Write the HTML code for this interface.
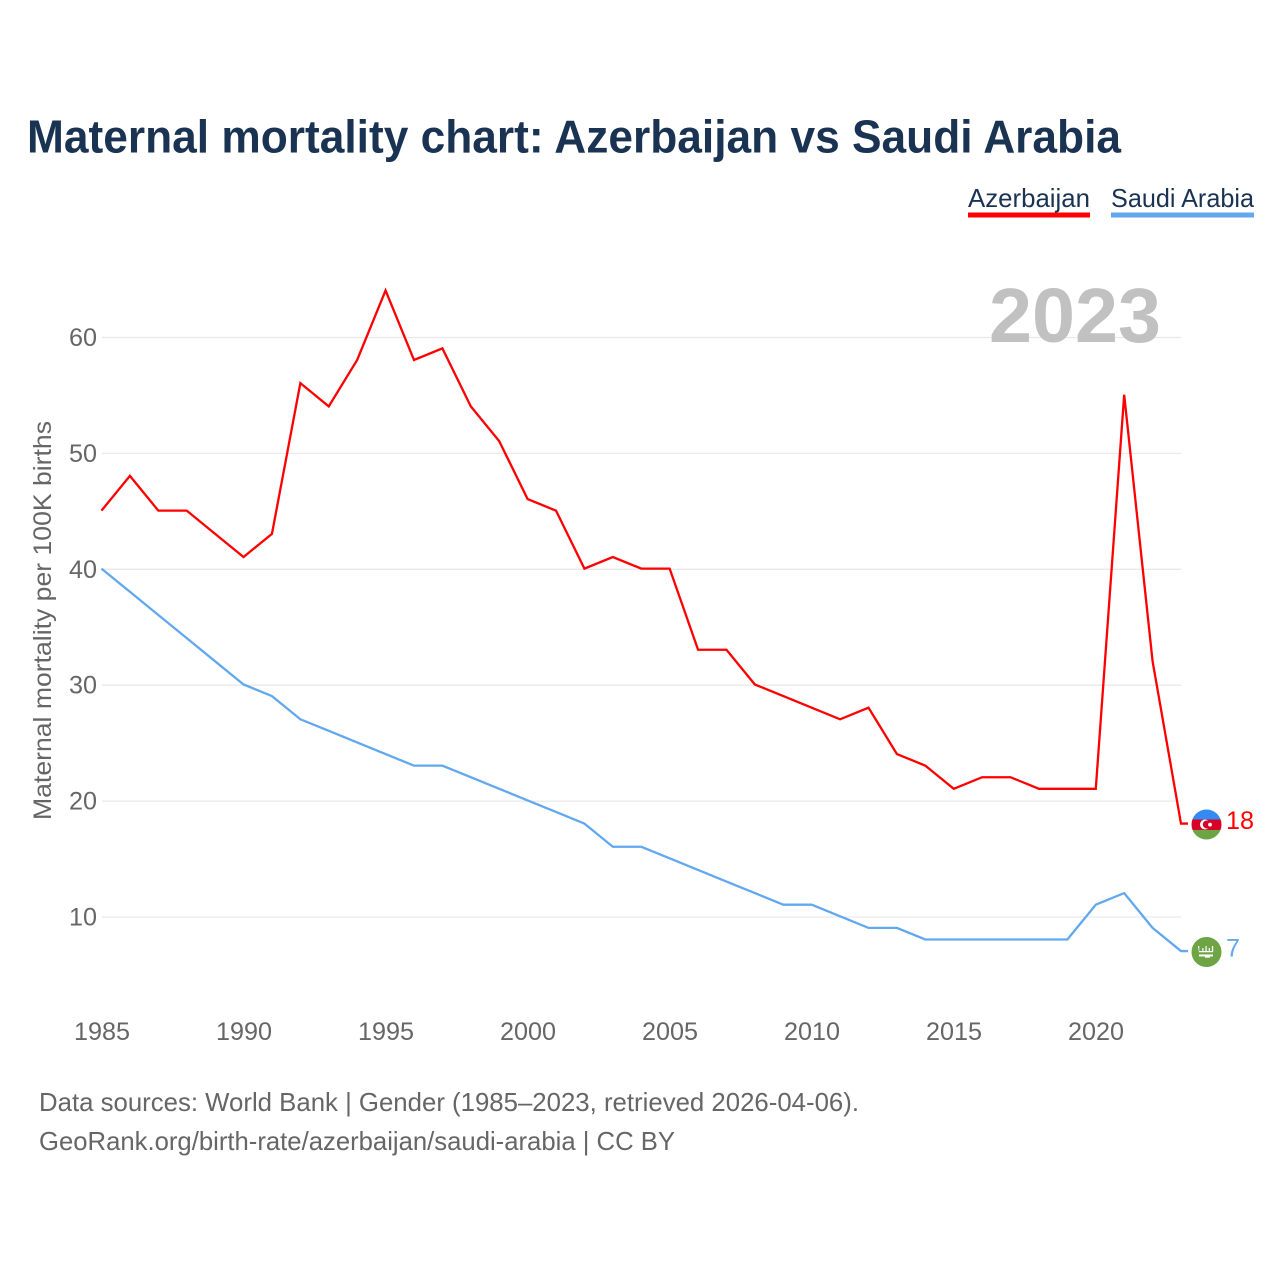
<!DOCTYPE html>
<html lang="en">
<head>
<meta charset="utf-8">
<title>Maternal mortality chart: Azerbaijan vs Saudi Arabia</title>
<style>
html,body{margin:0;padding:0;background:#fff;width:1280px;height:1280px;overflow:hidden}
svg{display:block}
text{font-family:"Liberation Sans",sans-serif}
</style>
</head>
<body>
<svg id="chart" width="1280" height="1280" viewBox="0 0 1280 1280" xmlns="http://www.w3.org/2000/svg">
  <rect width="1280" height="1280" fill="#ffffff"/>
  <text x="27" y="152.5" font-size="46" font-weight="700" fill="#1a3353" textLength="1094" lengthAdjust="spacingAndGlyphs">Maternal mortality chart: Azerbaijan vs Saudi Arabia</text>

  <g>
    <text x="968" y="207" font-size="26" fill="#1a3353" textLength="122" lengthAdjust="spacingAndGlyphs">Azerbaijan</text>
    <rect x="968" y="212.5" width="122" height="5" fill="#ff0000"/>
  </g>
  <g>
    <text x="1111" y="207" font-size="26" fill="#1a3353" textLength="143" lengthAdjust="spacingAndGlyphs">Saudi Arabia</text>
    <rect x="1111" y="212.5" width="143" height="5" fill="#62a8ee"/>
  </g>

  <g id="grid"></g>
  <g id="yticks"></g>
  <g id="xticks"></g>

  <text x="989" y="342" font-size="77" font-weight="700" fill="#c1c1c1" textLength="172" lengthAdjust="spacingAndGlyphs">2023</text>

  <text transform="translate(51,820) rotate(-90)" font-size="25" fill="#666666" textLength="399" lengthAdjust="spacingAndGlyphs">Maternal mortality per 100K births</text>

  <g id="series"></g>

  <g id="flag-az">
    <clipPath id="clip-az"><circle cx="1206.5" cy="823.5" r="15"/></clipPath>
    <g clip-path="url(#clip-az)">
      <rect x="1190" y="807" width="33" height="11.5" fill="#338af3"/>
      <rect x="1190" y="818.5" width="33" height="10.5" fill="#d80027"/>
      <rect x="1190" y="829" width="33" height="12" fill="#6da544"/>
    </g>
    <circle cx="1205" cy="823.5" r="5" fill="#ffffff"/>
    <circle cx="1206.8" cy="823.5" r="4" fill="#d80027"/>
    <circle cx="1210" cy="823.7" r="1.9" fill="#ffffff"/>
  </g>
  <g id="flag-sa">
    <circle cx="1206.5" cy="951.5" r="15" fill="#6da544"/>
    <path d="M1198 945.5h1.3v5h3v-3h1.2v3h2v-5h1.2v5h2v-3h1.2v3h2v-5h1.3v6.3h-14.2z" fill="#ffffff"/>
    <rect x="1199" y="954" width="14" height="2" fill="#ffffff"/>
    <rect x="1205" y="955" width="5" height="2.2" fill="#ffffff"/>
  </g>

  <g id="end-labels"></g>

  <text x="39" y="1111" font-size="26" fill="#666666" textLength="820" lengthAdjust="spacingAndGlyphs">Data sources: World Bank | Gender (1985–2023, retrieved 2026-04-06).</text>
  <text x="39" y="1150" font-size="26" fill="#666666" textLength="636" lengthAdjust="spacingAndGlyphs">GeoRank.org/birth-rate/azerbaijan/saudi-arabia | CC BY</text>
</svg>
<script>
const years = [1985,1986,1987,1988,1989,1990,1991,1992,1993,1994,1995,1996,1997,1998,1999,2000,2001,2002,2003,2004,2005,2006,2007,2008,2009,2010,2011,2012,2013,2014,2015,2016,2017,2018,2019,2020,2021,2022,2023];
const azerbaijan = [45,48,45,45,43,41,43,56,54,58,64,58,59,54,51,46,45,40,41,40,40,33,33,30,29,28,27,28,24,23,21,22,22,21,21,21,55,32,18];
const saudiArabia = [40,38,36,34,32,30,29,27,26,25,24,23,23,22,21,20,19,18,16,16,15,14,13,12,11,11,10,9,9,8,8,8,8,8,8,11,12,9,7];
const yTickValues = [10,20,30,40,50,60];
const xTickValues = [1985,1990,1995,2000,2005,2010,2015,2020];

const NS = 'http://www.w3.org/2000/svg';
const xScale = function (year) { return 101.5 + (year - 1985) * (1181 - 101.5) / (2023 - 1985); };
const yScale = function (value) { return 917 - (value - 10) * (917 - 337.5) / 50; };
const lineOffsetY = -0.7;

function make(tag, attrs, parent) {
  const el = document.createElementNS(NS, tag);
  for (const k in attrs) el.setAttribute(k, attrs[k]);
  parent.appendChild(el);
  return el;
}

const gridGroup = document.getElementById('grid');
const yGroup = document.getElementById('yticks');
const xGroup = document.getElementById('xticks');
const seriesGroup = document.getElementById('series');
const endGroup = document.getElementById('end-labels');

yTickValues.forEach(function (v) {
  const line = make('line', {x1: 102, x2: 1181, y1: yScale(v), y2: yScale(v), stroke: '#e9e9e9', 'stroke-width': 1.3}, gridGroup);
  
  
  const t = make('text', {x: 97, y: yScale(v) + 8.5, 'font-size': 25, fill: '#666666', 'text-anchor': 'end', textLength: 28, lengthAdjust: 'spacingAndGlyphs'}, yGroup);
  
  
  t.textContent = v;
});

xTickValues.forEach(function (y) {
  const t = make('text', {x: 102 + (y - 1985) * 28.4, y: 1040, 'font-size': 25, fill: '#666666', 'text-anchor': 'middle', textLength: 56, lengthAdjust: 'spacingAndGlyphs'}, xGroup);
  
  
  t.textContent = y;
});

function drawSeries(values, color) {
  let d = '';
  values.forEach(function (v, i) {
    d += (i ? 'L' : 'M') + xScale(years[i]).toFixed(2) + ' ' + (yScale(v) + lineOffsetY).toFixed(2);
  });
  const lastY = yScale(values[values.length - 1]) + lineOffsetY;
  d += 'L' + (xScale(years[years.length - 1]) + 7).toFixed(2) + ' ' + lastY.toFixed(2);
  return make('path', {d: d, fill: 'none', stroke: color, 'stroke-width': 2.3, 'stroke-linejoin': 'miter'}, seriesGroup);
}

const lineBlue = drawSeries(saudiArabia, '#62a8ee');


const lineRed = drawSeries(azerbaijan, '#ff0000');



function placeFlag(id, value) {
  const base = id === 'flag-az' ? 823.5 : 951.5;
  document.getElementById(id).setAttribute('transform', 'translate(0,' + (yScale(value) + 0.2 - base).toFixed(2) + ')');
}
const lastAz = azerbaijan[azerbaijan.length - 1];
const lastSa = saudiArabia[saudiArabia.length - 1];
placeFlag('flag-az', lastAz);
placeFlag('flag-sa', lastSa);

const endAz = make('text', {x: 1226, y: yScale(lastAz) + 4.8, 'font-size': 25, fill: '#ff0000', textLength: 28, lengthAdjust: 'spacingAndGlyphs'}, endGroup);


endAz.textContent = lastAz;
const endSa = make('text', {x: 1226, y: yScale(lastSa) + 4.5, 'font-size': 25, fill: '#62a8ee', textLength: 14, lengthAdjust: 'spacingAndGlyphs'}, endGroup);


endSa.textContent = lastSa;
</script>
</body>
</html>
